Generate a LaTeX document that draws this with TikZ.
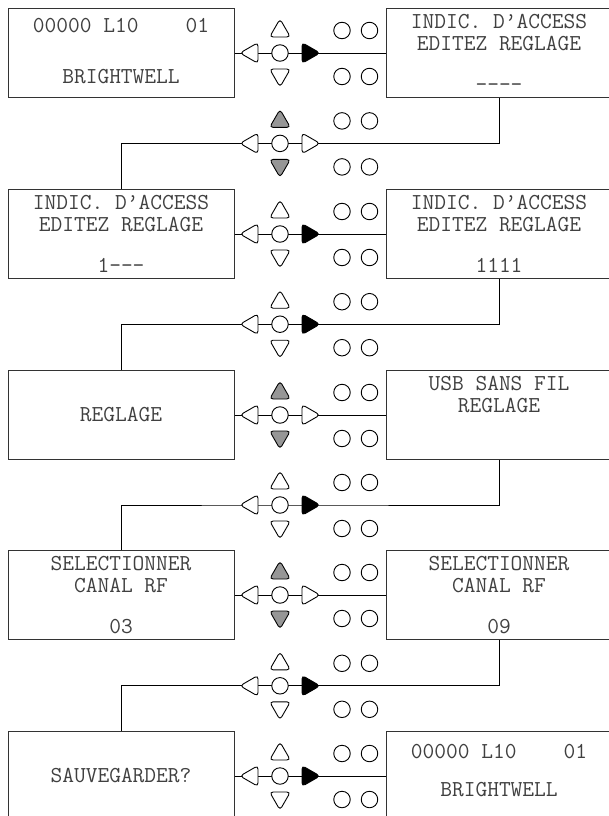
\documentclass[tikz,border=0pt]{standalone}
\usepackage{fontspec}
\usetikzlibrary{shapes.geometric, calc}
\definecolor{lcdtext}{RGB}{64, 64, 64}
\definecolor{keygrey}{RGB}{150, 150, 150}

\begin{document}
\begin{tikzpicture}[x=1pt, y=-1pt,
    screen/.style={draw=black!80, line width=1pt, minimum width=226pt, minimum height=89.5pt,
                   inner sep=0pt, align=center, text=lcdtext,
                   font=\ttfamily\fontsize{22.8}{22}\selectfont},
    btn/.style={circle, draw, line width=0.9pt, fill=white, minimum size=16.5pt, inner sep=0pt},
    arrowkey/.style={regular polygon, regular polygon sides=3, draw, line width=0.9pt,
                     fill=#1, minimum size=24pt, inner sep=0pt, rounded corners=3.5pt},
    wire/.style={line width=0.9pt}
]
    \useasboundingbox (0,0) rectangle (608,816);

    % screens
    \node[screen, text depth=5pt] (s1l) at (121,53) {00000 L10~~~~01\\[29pt]BRIGHTWELL};
    \node[screen] (s1r) at (499,53) {INDIC. D’ACCESS\\EDITEZ REGLAGE\\[19pt]----};
    \node[screen] (s2l) at (121,234) {INDIC. D’ACCESS\\EDITEZ REGLAGE\\[19pt]1---};
    \node[screen] (s2r) at (499,234) {INDIC. D’ACCESS\\EDITEZ REGLAGE\\[19pt]1111};
    \node[screen] (s3l) at (121,415) {REGLAGE};
    \node[screen] (s3r) at (499,415) {USB SANS FIL\\REGLAGE\\[19pt]\phantom{0}};
    \node[screen] (s4l) at (121,595) {SELECTIONNER\\CANAL RF\\[19pt]03};
    \node[screen] (s4r) at (499,595) {SELECTIONNER\\CANAL RF\\[19pt]09};
    \node[screen] (s5l) at (121,776) {SAUVEGARDER?};
    \node[screen, text depth=12pt] (s5r) at (499,776) {00000 L10~~~~01\\[16pt]BRIGHTWELL};

    % keypad centres
    \coordinate (c1) at (280,53);
    \coordinate (c2) at (280,143.4);
    \coordinate (c3) at (280,234);
    \coordinate (c4) at (280,324.2);
    \coordinate (c5) at (280,415);
    \coordinate (c6) at (280,505);
    \coordinate (c7) at (280,595);
    \coordinate (c8) at (280,685.8);
    \coordinate (c9) at (280,776);

    % wiring
    \draw[wire] (s1l) -- (s1r);
    \draw[wire] (s1r.south) |- (c2) -| (s2l.north);
    \draw[wire] (s2l) -- (s2r);
    \draw[wire] (s2r.south) |- (c4) -| (s3l.north);
    \draw[wire] (s3l) -- (s3r);
    \draw[wire] (s3r.south) |- (c6) -| (s4l.north);
    \draw[wire] (s4l) -- (s4r);
    \draw[wire] (s4r.south) |- (c8) -| (s5l.north);
    \draw[wire] (s5l) -- (s5r);

    % keypads
    \foreach \i/\ud/\rt in {1/white/black, 2/keygrey/white, 3/white/black,
                            4/white/black, 5/keygrey/white, 6/white/black,
                            7/keygrey/white, 8/white/black, 9/white/black} {
        \node[btn] (kp\i) at (c\i) {};
        \node[arrowkey=white, shape border rotate=90] (kp\i-l) at ($(c\i)+(-28,0)$) {};
        \node[arrowkey=\rt, shape border rotate=270] (kp\i-r) at ($(c\i)+(28,0)$) {};
        \node[arrowkey=\ud] (kp\i-u) at ($(c\i)+(0,-22)$) {};
        \node[arrowkey=\ud, shape border rotate=180] (kp\i-d) at ($(c\i)+(0,22)$) {};
        \node[btn] (kp\i-a) at ($(c\i)+(62,-22.5)$) {};
        \node[btn] (kp\i-b) at ($(c\i)+(89.5,-22.5)$) {};
        \node[btn] (kp\i-c) at ($(c\i)+(62,23.5)$) {};
        \node[btn] (kp\i-e) at ($(c\i)+(89.5,23.5)$) {};
    }
\end{tikzpicture}
\end{document}
